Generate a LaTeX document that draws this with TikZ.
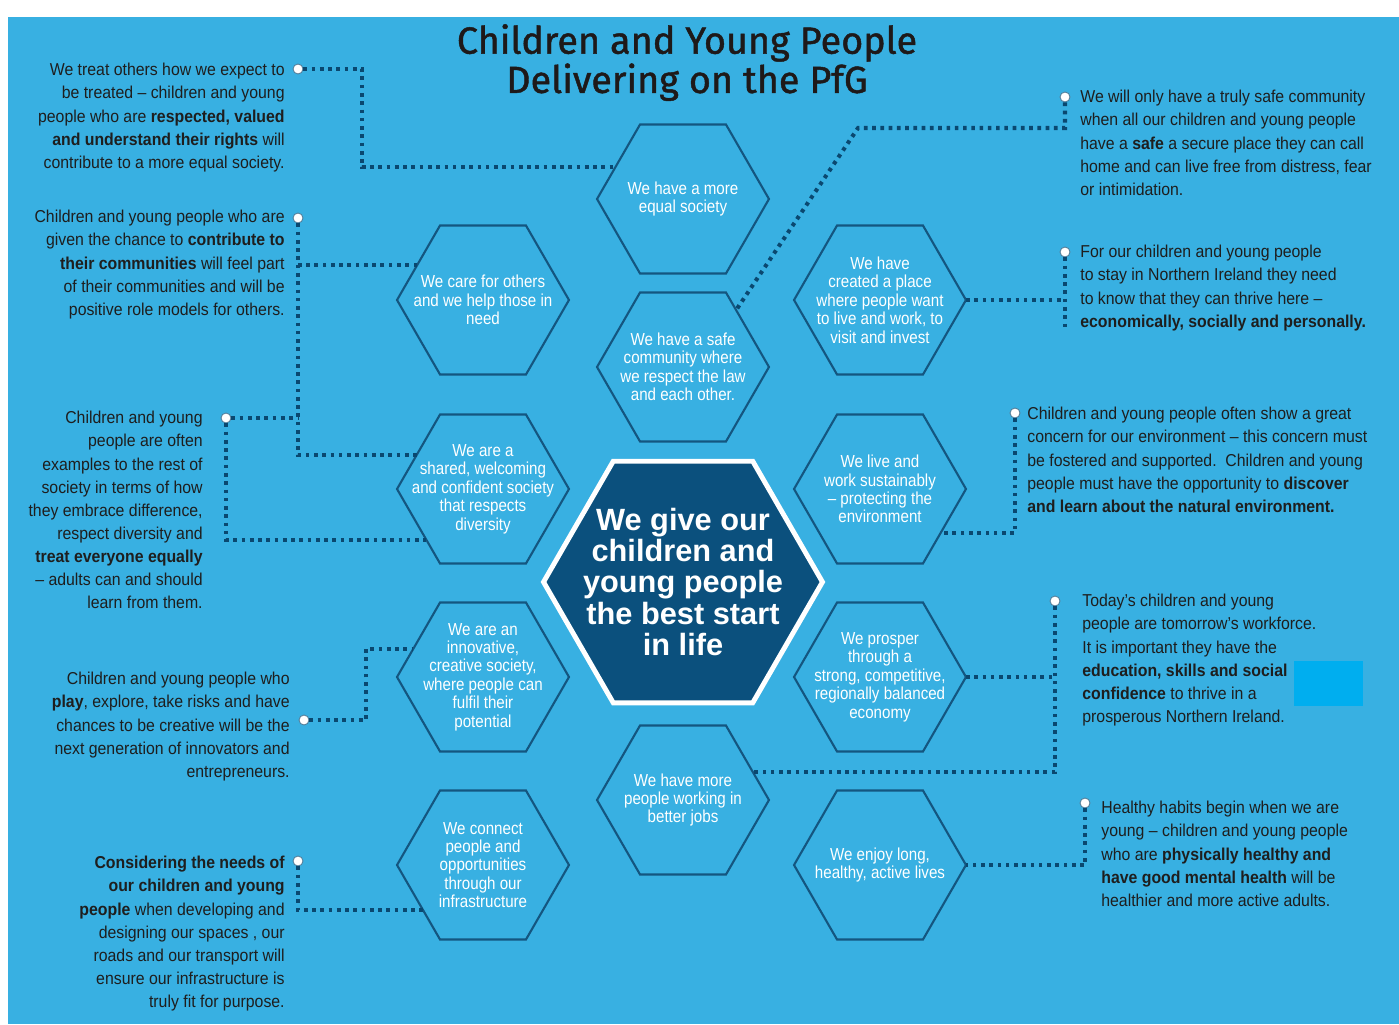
\documentclass[tikz,border=0pt]{standalone}
\usepackage{fontspec}
\setmainfont{Liberation Sans}
\newfontfamily\bodyfont[FakeStretch=0.92]{Liberation Sans}
\newfontfamily\hexfont[FakeStretch=0.87]{Liberation Sans}
\newfontfamily\titlefont[FakeBold=1.2]{Fira Sans}
\usetikzlibrary{shapes.geometric}

\definecolor{panelblue}{RGB}{56,176,226}
\definecolor{hexline}{RGB}{20,86,128}
\definecolor{linknavy}{RGB}{10,72,112}
\definecolor{centrenavy}{RGB}{11,80,125}
\definecolor{textgray}{RGB}{30,30,30}
\definecolor{titleblack}{RGB}{30,25,25}
\definecolor{brightblue}{RGB}{0,174,239}

\tikzset{
  hexa/.style={regular polygon, regular polygon sides=6, minimum size=3.44cm,
    inner sep=0pt, outer sep=0pt, draw=hexline, line width=1.2pt},
  hextext/.style={text=white, align=center, inner sep=0pt,
    font=\hexfont\fontsize{9.9pt}{10.5pt}\selectfont},
  blurb/.style={text=textgray, inner sep=0pt,
    font=\bodyfont\fontsize{9.8pt}{13.15pt}\selectfont},
  lblurb/.style={blurb, align=right, anchor=north east},
  rblurb/.style={blurb, align=left, anchor=north west},
  knob/.style={circle, fill=white, draw=linknavy!70, line width=0.5pt,
    minimum size=0.2cm, inner sep=0pt},
  link/.style={draw=linknavy, line width=2.3pt, dash pattern=on 2.1pt off 2.6pt},
}

\begin{document}
\begin{tikzpicture}[x=0.02cm, y=-0.02cm]
\useasboundingbox (0,0) rectangle (1399,1024);
\fill[panelblue] (8,17) rectangle (1399,1024);

\node[font=\titlefont\fontsize{21.5pt}{21.3pt}\selectfont, text=titleblack, align=center, anchor=north] (title) at (687,18) {Children and Young People\\Delivering on the PfG};

% outcome hexagons, left column
\node[hexa, label={[hextext]center:We care for others\\and we help those in\\need}] (care) at (483,300) {};
\node[hexa, label={[hextext]center:We are a\\shared, welcoming\\and confident society\\that respects\\diversity}] (shared) at (483,489) {};
\node[hexa, label={[hextext]center:We are an\\innovative,\\creative society,\\where people can\\fulfil their\\potential}] (innov) at (483,677) {};
\node[hexa, label={[hextext]center:We connect\\people and\\opportunities\\through our\\infrastructure}] (connect) at (483,865) {};

% middle column
\node[hexa, label={[hextext]center:We have a more\\equal society}] (equal) at (683,199) {};
\node[hexa, label={[hextext]center:We have a safe\\community where\\we respect the law\\and each other.}] (safe) at (683,367) {};
\node[hexa, label={[hextext]center:We have more\\people working in\\better jobs}] (jobs) at (683,800) {};

% right column
\node[hexa, label={[hextext]center:We have\\created a place\\where people want\\to live and work, to\\visit and invest}] (place) at (880,300) {};
\node[hexa, label={[hextext]center:We live and\\work sustainably\\– protecting the\\environment}] (live) at (880,489) {};
\node[hexa, label={[hextext]center:We prosper\\through a\\strong, competitive,\\regionally balanced\\economy}] (prosper) at (880,677) {};
\node[hexa, label={[hextext]center:We enjoy long,\\healthy, active lives}] (enjoy) at (880,865) {};

\node[hexa, minimum size=5.58cm, fill=centrenavy, draw=white, line width=2.8pt, label={[text=white, align=center, font=\bfseries\fontsize{17.5pt}{17.9pt}\selectfont]center:We give our\\children and\\young people\\the best start\\in life}] (start) at (683,582) {};

% left texts
\node[lblurb] (treat) at (285,63) {We treat others how we expect to\\be treated – children and young\\people who are \textbf{respected, valued}\\\textbf{and understand their rights} will\\contribute to a more equal society.};
\node[lblurb] (given) at (285,210) {Children and young people who are\\given the chance to \textbf{contribute to}\\\textbf{their communities} will feel part\\of their communities and will be\\positive role models for others.};
\node[lblurb] (often) at (203,411) {Children and young\\people are often\\examples to the rest of\\society in terms of how\\they embrace difference,\\respect diversity and\\\textbf{treat everyone equally}\\– adults can and should\\learn from them.};
\node[lblurb] (play) at (290,672) {Children and young people who\\\textbf{play}, explore, take risks and have\\chances to be creative will be the\\next generation of innovators and\\entrepreneurs.};
\node[lblurb] (needs) at (285,856) {\textbf{Considering the needs of}\\\textbf{our children and young}\\\textbf{people} when developing and\\designing our spaces , our\\roads and our transport will\\ensure our infrastructure is\\truly fit for purpose.};

% right texts
\node[rblurb] (truly) at (1080,90) {We will only have a truly safe community\\when all our children and young people\\have a \textbf{safe} a secure place they can call\\home and can live free from distress, fear\\or intimidation.};
\node[rblurb] (stay) at (1080,245) {For our children and young people\\to stay in Northern Ireland they need\\to know that they can thrive here –\\\textbf{economically, socially and personally.}};
\node[rblurb] (concern) at (1027,407) {Children and young people often show a great\\concern for our environment – this concern must\\be fostered and supported.\ \ Children and young\\people must have the opportunity to \textbf{discover}\\\textbf{and learn about the natural environment.}};
\node[rblurb] (workforce) at (1082,594) {Today’s children and young\\people are tomorrow’s workforce.\\It is important they have the\\\textbf{education, skills and social}\\\textbf{confidence} to thrive in a\\prosperous Northern Ireland.};
\node[rblurb] (habits) at (1101,801) {Healthy habits begin when we are\\young – children and young people\\who are \textbf{physically healthy and}\\\textbf{have good mental health} will be\\healthier and more active adults.};

\fill[brightblue] (1294,661) rectangle (1363,706);

% end points of the dotted links
\node[knob] (ka) at (298,69) {};
\node[knob] (kb) at (298,218) {};
\node[knob] (kc) at (226,418) {};
\node[knob] (ki) at (304,720) {};
\node[knob] (kj) at (298,861) {};
\node[knob] (kd) at (1065,97) {};
\node[knob] (ke) at (1065,252) {};
\node[knob] (kf) at (1015,413) {};
\node[knob] (kg) at (1055,601) {};
\node[knob] (kh) at (1085,803) {};

% dotted connectors
\draw[link] (ka) -- ++(64,0) |- (equal.155);
\draw[link] (kb) |- (shared.153);
\draw[link] (care.152) -- (care.152 -| kb);
\draw[link] (kc) -- (kc -| kb);
\draw[link] (kc) |- (shared.222);
\draw[link] (ki) -- ++(62,0) |- (innov.158);
\draw[link] (kj) |- (connect.217);
\draw[link] (kd) -- ++(0,31) -- ++(-207,0) -- (safe.47);
\draw[link] (ke) -- ++(0,78);
\draw[link] (place.east) -- (place.east -| ke);
\draw[link] (kf) |- (live.324);
\draw[link] (kg) |- (jobs.22);
\draw[link] (prosper.east) -- (prosper.east -| kg);
\draw[link] (kh) |- (enjoy.east);
\end{tikzpicture}
\end{document}
